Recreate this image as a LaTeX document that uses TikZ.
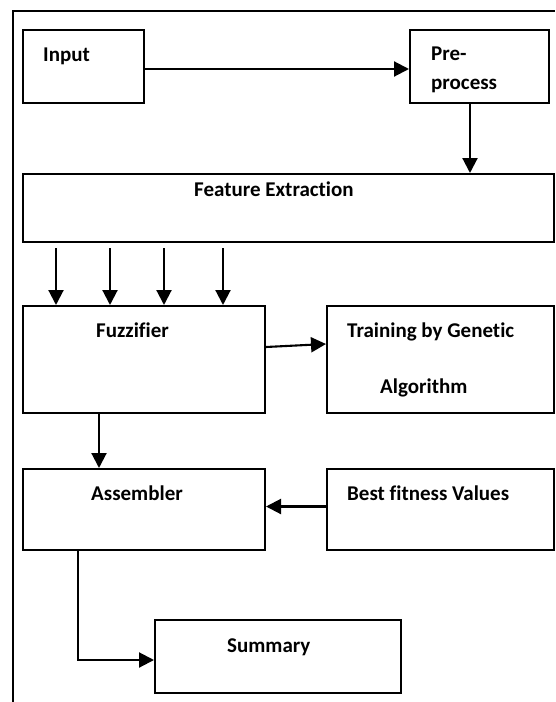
\documentclass[tikz,border=0pt]{standalone}
\usepackage{fontspec}
\setmainfont{Carlito}[Ligatures=NoCommon]
\usetikzlibrary{arrows.meta}

\begin{document}
\begin{tikzpicture}[x=1pt,y=-1pt]
\tikzset{box/.style={draw=black, line width=2pt, anchor=north west, inner sep=0pt},
  lbl/.style={anchor=base west, inner sep=0pt, font=\bfseries\fontsize{21}{25}\selectfont},
  arr/.style={draw=black, line width=2.1pt, -{Triangle[length=15pt,width=15pt]}}}
\useasboundingbox (0,0) rectangle (555,702);
\draw [black, line width=2pt] (12.7,702) -- (12.7,10.7) -- (555,10.7);
\node [box, minimum width=121pt, minimum height=73pt] (input) at (22,29) {};
\node [lbl] (inputtxt) at (43,61) {Input};
\node [box, minimum width=139pt, minimum height=73pt] (pre) at (409,29) {};
\node [lbl] (pretxta) at (431,60) {Pre-};
\node [lbl] (pretxtb) at (431,89) {process};
\node [box, minimum width=531pt, minimum height=68pt] (feat) at (22,173) {};
\node [lbl] (feattxt) at (194,196) {Feature Extraction};
\node [box, minimum width=242pt, minimum height=107pt] (fuzz) at (22,305) {};
\node [lbl] (fuzztxt) at (96,337) {Fuzzifier};
\node [box, minimum width=227pt, minimum height=107pt] (train) at (326,305) {};
\node [lbl] (traintxta) at (347,337) {Training by Genetic};
\node [lbl] (traintxtb) at (380,393) {Algorithm};
\node [box, minimum width=242pt, minimum height=81pt] (asm) at (22,468) {};
\node [lbl] (asmtxt) at (91,500) {Assembler};
\node [box, minimum width=227pt, minimum height=81pt] (best) at (326,468) {};
\node [lbl] (besttxt) at (347,500) {Best fitness Values};
\node [box, minimum width=246pt, minimum height=73pt] (sum) at (154,619) {};
\node [lbl] (sumtxt) at (227,652) {Summary};
\draw [arr] ([yshift=-2.5pt]input.east) -- ([yshift=-2.5pt]pre.west);
\draw [arr] ([xshift=-9.5pt]pre.south) -- ([xshift=-9.5pt]pre.south |- feat.north);
\foreach \x in {56,110,164,223}
  \draw [arr, shorten <=5pt] (feat.south -| \x,0) -- (fuzz.north -| \x,0);
\draw [arr] ([yshift=12.5pt]fuzz.east) -- ([yshift=15.5pt]train.west);
\draw [arr] (fuzz.south -| 99,0) -- (asm.north -| 99,0);
\draw [arr] ([yshift=3pt]best.west) -- ([yshift=3pt]asm.east);
\draw [arr] (asm.south -| 78,0) |- ([yshift=-3.5pt]sum.west);
\end{tikzpicture}
\end{document}
